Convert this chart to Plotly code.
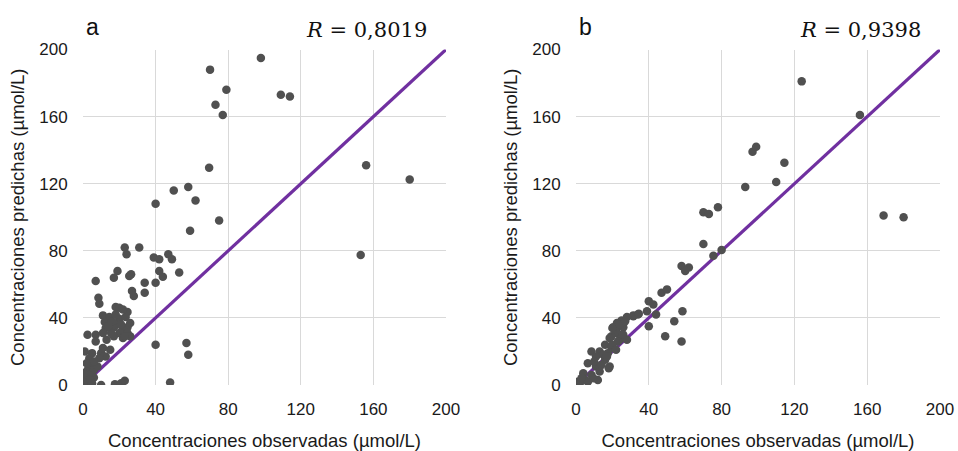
import plotly.graph_objects as go

# Panel a: observed vs predicted
a_obs = [98, 70, 79, 73, 77, 109, 114, 69.5, 156, 180, 40, 50, 58, 62, 75, 59, 31, 23, 24, 39, 42, 47, 49,
         19, 17, 25.5, 26.5, 42, 44, 53, 34, 40, 7, 27, 28, 34, 8.5, 9, 40, 57, 58, 48, 17.6, 21, 23, 10, 153,
         18, 20, 24.5, 11, 14.5, 12, 20, 23.5, 12.5, 17, 22, 24.5, 15.5, 20, 24.5, 2.5, 7, 7, 1, 5, 10, 15,
         12.5, 9, 3.5, 4.5, 2.5, 6, 1.5, 6, 0, 2.5, 0, 1, 3, 4, 5, 8, 19, 16, 13, 22, 26, 18, 21, 11, 6, 0.5,
         2, 14, 22, 26, 17, 11, 23]
a_pred = [195, 188, 176, 167, 161, 173, 172, 129.5, 131, 122.5, 108, 116, 118, 110, 98, 92, 82, 82, 78, 76, 75,
          78, 75, 68, 64, 65, 66, 68, 64.5, 67, 61, 61, 62, 56, 53, 55, 52, 48.5, 24, 25, 18, 1.5, 0.5, 1, 2.5,
          0, 77.5, 46.5, 46, 43.5, 41.5, 40.5, 37.5, 39.5, 40.5, 34, 34.5, 33, 34.5, 31, 31, 31, 30, 30, 26,
          20, 19, 19, 21, 17, 16, 16, 12, 9, 9, 5, 4.5, 3, 1, 0, 2, 6, 3, 1, 11, 36, 38, 27, 28, 37, 42, 36,
          22, 14, 7, 13, 35, 45, 29, 29, 31, 29]

# Panel b
b_obs = [124, 156, 97, 99, 114.5, 110, 93, 169, 180, 70, 73, 78, 70, 75.5, 80, 58, 62, 60, 47, 50, 40, 42.5,
         39, 44, 34, 31.5, 58.5, 54, 40, 49, 58, 31.5, 28, 25, 22.5, 26, 20.5, 22.5, 26, 19.5, 24, 28, 34.5,
         25, 21.5, 25.5, 18.5, 23, 16, 19.5, 13, 17.5, 8.5, 11, 16, 18.5, 6.5, 11, 4, 8.5, 13, 12, 1, 5, 0,
         2, 6.5, 18, 9.5, 20, 24, 27, 15, 10, 20, 14, 3, 22, 17]
b_pred = [181, 161, 139, 142, 132.5, 121, 118, 101, 100, 103, 102, 106, 84, 77, 80.5, 71, 70, 68, 55, 57, 50,
          48, 44, 42, 42, 41, 44, 38, 35, 29, 26, 41.5, 40.5, 38.5, 37, 34.5, 34.5, 31, 30, 29, 27, 27, 42.5,
          35, 33, 30, 28, 26, 24, 22, 20, 19, 20, 17, 15, 11, 13, 11, 7, 6, 8, 3, 2, 3, 0, 0.5, 2, 10, 4,
          34, 36, 38, 18, 14, 24, 12, 4, 21, 17]

ref_line = [0, 200]
ticks = [0, 40, 80, 120, 160, 200]
panel_labels = ["a", "b"]
r_labels = ["0,8019", "0,9398"]
x_title = "Concentraciones observadas (µmol/L)"
y_title = "Concentraciones predichas (µmol/L)"

MARK = "#505050"
LINE = "#7030A0"
GRID = "#d9d9d9"
FONT = "Liberation Sans"
TXT = "#1a1a1a"

fig = go.Figure()
for i, (xs, ys) in enumerate([(a_obs, a_pred), (b_obs, b_pred)]):
    sfx = "" if i == 0 else "2"
    fig.add_trace(go.Scatter(x=ref_line, y=ref_line, mode="lines",
                             line=dict(color=LINE, width=3.2),
                             xaxis="x" + sfx, yaxis="y" + sfx, showlegend=False, hoverinfo="skip"))
    fig.add_trace(go.Scatter(x=xs, y=ys, mode="markers",
                             marker=dict(color=MARK, size=8.5, line=dict(width=0)),
                             xaxis="x" + sfx, yaxis="y" + sfx, showlegend=False))

# body margin is removed by post_script, so the figure sits at (0, 0)
W, H = 958, 451
xdoms = [[83 / W, 446 / W], [576 / W, 940 / W]]
ydom = [(H - 385) / H, (H - 49.5) / H]

axis_common = dict(range=[0, 200], tickvals=ticks, showgrid=True, gridcolor=GRID, gridwidth=1,
                   zeroline=False, showline=False, ticks="outside", tickcolor="rgba(0,0,0,0)",
                   automargin=False,
                   tickfont=dict(family=FONT, size=17, color=TXT), fixedrange=True)

layout = dict(width=W, height=H, margin=dict(l=0, r=0, t=0, b=0, autoexpand=False),
              plot_bgcolor="white", paper_bgcolor="white", showlegend=False)

for i in range(2):
    sfx = "" if i == 0 else "2"
    layout["xaxis" + sfx] = dict(axis_common, domain=xdoms[i], anchor="y" + sfx, ticklen=9,
                                 title=dict(text=x_title, font=dict(family=FONT, size=18.5, color=TXT),
                                            standoff=15))
    layout["yaxis" + sfx] = dict(axis_common, domain=ydom, anchor="x" + sfx, ticklen=11,
                                 title=dict(text=y_title, font=dict(family=FONT, size=18.5, color=TXT),
                                            standoff=9))
fig.update_layout(**layout)

annotations = []
for i in range(2):
    x0 = xdoms[i][0]
    x1 = xdoms[i][1]
    annotations.append(dict(text=panel_labels[i], xref="paper", yref="paper", x=x0 + 1 / W,
                            y=(H - 42) / H,
                            xanchor="left", yanchor="bottom", showarrow=False,
                            font=dict(family=FONT, size=23, color="#111111")))
    annotations.append(dict(text="<i>R</i> = " + r_labels[i], xref="paper", yref="paper",
                            x=x1 - 17 / W, y=(H - 44) / H, xanchor="right", yanchor="bottom",
                            showarrow=False, font=dict(family="DejaVu Serif", size=21, color="#111111")))
fig.update_layout(annotations=annotations)

fig.write_html("out.html", config={"displayModeBar": False},
               post_script="document.body.style.margin='0';document.body.style.overflow='hidden';")
